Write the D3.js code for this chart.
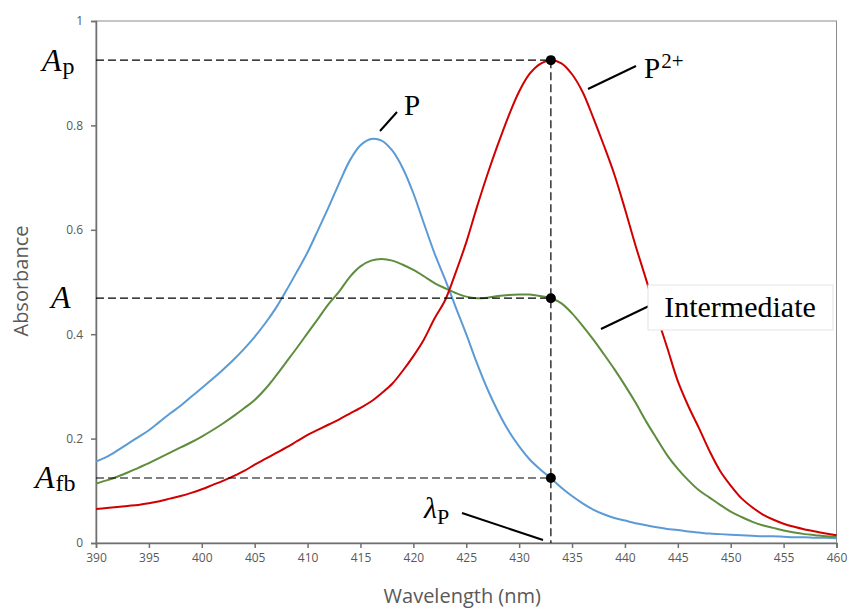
<!DOCTYPE html>
<html>
<head>
<meta charset="utf-8">
<script src="https://cdn.jsdelivr.net/npm/d3@7"></script>
<style>
  body { margin: 0; background: #fff; }
  svg { display: block; }
</style>
</head>
<body>
<script>
// wavelengths 390..460 nm, 1 nm steps
var wavelengths = d3.range(390, 461, 1);

var absP = [
  0.156, 0.165, 0.177, 0.190, 0.203, 0.216, 0.232, 0.248, 0.263, 0.280,
  0.297, 0.314, 0.332, 0.351, 0.372, 0.395, 0.421, 0.450, 0.484, 0.520,
  0.557, 0.600, 0.644, 0.690, 0.733, 0.762, 0.774, 0.771, 0.752, 0.718,
  0.670, 0.612, 0.555, 0.505, 0.452, 0.400, 0.345, 0.295, 0.252, 0.215,
  0.185, 0.160, 0.141, 0.124, 0.106, 0.090, 0.076, 0.064, 0.055, 0.048,
  0.043, 0.038, 0.034, 0.030, 0.027, 0.025, 0.022, 0.020, 0.018, 0.017,
  0.016, 0.015, 0.014, 0.013, 0.013, 0.012, 0.011, 0.011, 0.010, 0.010,
  0.009
];

var absInter = [
  0.114, 0.120, 0.127, 0.135, 0.144, 0.153, 0.163, 0.173, 0.183, 0.193,
  0.204, 0.216, 0.229, 0.243, 0.258, 0.274, 0.295, 0.320, 0.347, 0.374,
  0.402, 0.430, 0.458, 0.482, 0.510, 0.530, 0.541, 0.544, 0.541, 0.533,
  0.523, 0.511, 0.498, 0.488, 0.479, 0.472, 0.469, 0.470, 0.473, 0.475,
  0.476, 0.476, 0.473, 0.469, 0.459, 0.440, 0.416, 0.390, 0.362, 0.333,
  0.302, 0.269, 0.233, 0.200, 0.168, 0.142, 0.120, 0.101, 0.087, 0.073,
  0.060, 0.050, 0.041, 0.034, 0.029, 0.024, 0.020, 0.017, 0.015, 0.013,
  0.012
];

var absP2 = [
  0.065, 0.067, 0.069, 0.071, 0.073, 0.076, 0.080, 0.085, 0.090, 0.096,
  0.103, 0.111, 0.119, 0.128, 0.138, 0.150, 0.161, 0.172, 0.183, 0.195,
  0.207, 0.217, 0.227, 0.237, 0.248, 0.259, 0.271, 0.287, 0.305, 0.330,
  0.358, 0.390, 0.430, 0.465, 0.518, 0.576, 0.643, 0.706, 0.764, 0.818,
  0.865, 0.899, 0.918, 0.925, 0.919, 0.898, 0.864, 0.815, 0.762, 0.706,
  0.640, 0.570, 0.505, 0.437, 0.374, 0.310, 0.262, 0.220, 0.176, 0.138,
  0.110, 0.086, 0.069, 0.055, 0.045, 0.037, 0.031, 0.026, 0.022, 0.018,
  0.015
];

var xTicks = d3.range(390, 461, 5);
var yTicks = [0, 0.2, 0.4, 0.6, 0.8, 1];

// marked wavelength and absorbances
var lambdaP = 433;
var markLevels = [0.925, 0.469, 0.1245];

var margin = {top: 21, right: 12.5, bottom: 66, left: 96};
var width = 849 - margin.left - margin.right;
var height = 609 - margin.top - margin.bottom;

var svg = d3.select("body").append("svg")
    .attr("width", 849)
    .attr("height", 609);

var g = svg.append("g")
    .attr("transform", "translate(" + margin.left + "," + margin.top + ")");

var x = d3.scaleLinear().domain([390, 460]).range([0, width]);
var y = d3.scaleLinear().domain([0, 1]).range([height, 0]);

var axisColor = "#707070";
var tickFont = "'Open Sans', 'Liberation Sans', sans-serif";

// frame
g.append("rect")
    .attr("width", width)
    .attr("height", height)
    .attr("fill", "none")
    .attr("stroke", "#8c8c8c")
    .attr("stroke-width", 1);

var xAxis = g.append("g")
    .attr("transform", "translate(0," + height + ")")
    .call(d3.axisBottom(x).tickValues(xTicks).tickSize(5).tickPadding(5).tickFormat(d3.format("d")));

var yAxis = g.append("g")
    .call(d3.axisLeft(y).tickValues(yTicks).tickSize(5).tickPadding(8).tickFormat(d => d === 0 || d === 1 ? d : d.toFixed(1)));

[xAxis, yAxis].forEach(ax => {
    ax.selectAll("path, line").attr("stroke", axisColor).attr("stroke-width", 1.5);
    ax.selectAll("text")
        .attr("fill", "#595959")
        .style("font-family", tickFont)
        .style("font-size", "12px");
});

// axis titles
g.append("text")
    .attr("x", width / 2 - 4)
    .attr("y", height + 60)
    .attr("text-anchor", "middle")
    .attr("fill", "#595959")
    .style("font-family", tickFont)
    .style("font-size", "20px")
    .text("Wavelength (nm)");

g.append("text")
    .attr("transform", "rotate(-90)")
    .attr("x", -height / 2 + 1)
    .attr("y", -68)
    .attr("text-anchor", "middle")
    .attr("fill", "#595959")
    .style("font-family", tickFont)
    .style("font-size", "20px")
    .text("Absorbance");

// spectra
var line = d3.line()
    .x((d, i) => x(wavelengths[i]))
    .y(d => y(d))
    .curve(d3.curveCatmullRom);

var series = [
    {name: "P", values: absP, color: "#5b9bd5"},
    {name: "Intermediate", values: absInter, color: "#5e8d3e"},
    {name: "P2+", values: absP2, color: "#d00000"}
];

series.forEach(s => {
    g.append("path")
        .attr("d", line(s.values))
        .attr("fill", "none")
        .attr("stroke", s.color)
        .attr("stroke-width", 2);
});

// dashed guides
markLevels.forEach(v => {
    g.append("line")
        .attr("x1", 0).attr("x2", x(lambdaP))
        .attr("y1", y(v)).attr("y2", y(v))
        .attr("stroke", "#000")
        .attr("stroke-width", 1.2)
        .attr("stroke-dasharray", "8,4");
});

g.append("line")
    .attr("x1", x(lambdaP)).attr("x2", x(lambdaP))
    .attr("y1", y(markLevels[0])).attr("y2", height)
    .attr("stroke", "#000")
    .attr("stroke-width", 1.2)
    .attr("stroke-dasharray", "8,4");

markLevels.forEach(v => {
    g.append("circle")
        .attr("cx", x(lambdaP))
        .attr("cy", y(v))
        .attr("r", 5)
        .attr("fill", "#000");
});

// annotations
var serif = "'Liberation Serif', 'DejaVu Serif', serif";

function leader(x1, y1, x2, y2) {
    svg.append("line")
        .attr("x1", x1).attr("y1", y1)
        .attr("x2", x2).attr("y2", y2)
        .attr("stroke", "#000")
        .attr("stroke-width", 2);
}

function label(px, py, size) {
    return svg.append("text")
        .attr("x", px)
        .attr("y", py)
        .style("font-family", serif)
        .style("font-size", size + "px")
        .attr("fill", "#000");
}

// A_p, A, A_fb on the left
var ap = label(42, 71, 32);
ap.append("tspan").style("font-style", "italic").text("A");
ap.append("tspan").attr("dx", 1).attr("dy", 3).style("font-size", "24px").text("p");

label(51, 308, 32).style("font-style", "italic").text("A");

var afb = label(35, 488, 32);
afb.append("tspan").style("font-style", "italic").text("A");
afb.append("tspan").attr("dx", 1).attr("dy", 3).style("font-size", "24px").text("fb");

// P label
leader(380, 131, 397, 112);
label(404, 115, 29).text("P");

// P2+ label
leader(588, 89, 636, 66);
var p2 = label(644, 78, 29);
p2.append("tspan").text("P");
p2.append("tspan").attr("dx", 1).attr("dy", -10).style("font-size", "21px").text("2+");

// Intermediate label with box
leader(601, 329, 649, 306);
svg.append("rect")
    .attr("x", 648)
    .attr("y", 285)
    .attr("width", 185)
    .attr("height", 45)
    .attr("fill", "#fff")
    .attr("stroke", "#e4e4e4")
    .attr("stroke-width", 1);
label(740, 317, 30).attr("text-anchor", "middle").text("Intermediate");

// lambda_P label
leader(462, 513, 543, 540);
var lp = label(424, 518, 30);
lp.append("tspan").style("font-style", "italic").text("λ");
lp.append("tspan").attr("dy", 6).style("font-size", "22px").text("P");
</script>
</body>
</html>
